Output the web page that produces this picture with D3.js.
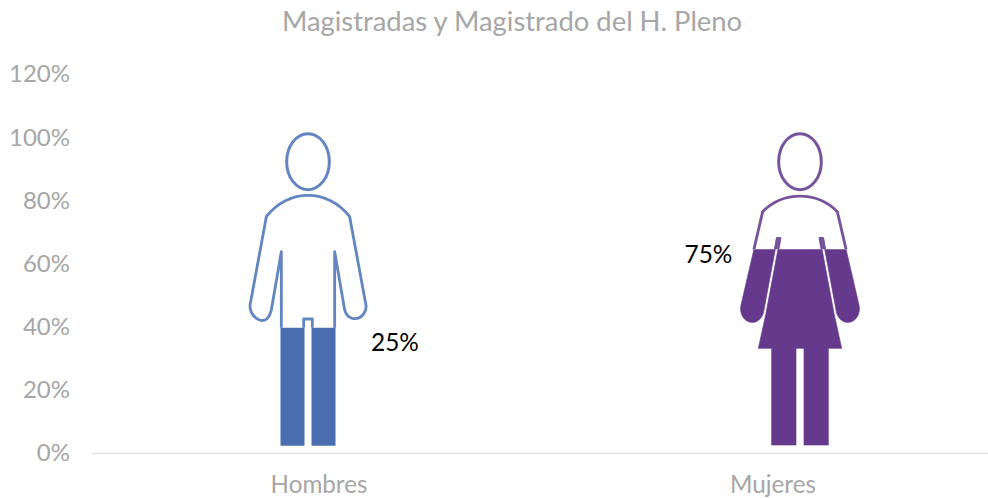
<!DOCTYPE html>
<html>
<head>
<meta charset="utf-8">
<script src="https://cdn.jsdelivr.net/npm/d3@7"></script>
<style>
  html, body { margin: 0; padding: 0; background: #fff; }
  text { font-family: Lato, "Open Sans", sans-serif; }
</style>
</head>
<body>
<svg id="chart"></svg>
<script>
var categories = ["Hombres", "Mujeres"];
var labels = ["25%", "75%"];
// level the fill reaches on the axis (the picture is not filled to its label)
var fillLevels = [39.8, 64.7];
var yTicks = [0, 20, 40, 60, 80, 100, 120];
var colors = ["#4a6eb0", "#65398c"];
var outlines = ["#6486c0", "#77539c"];

var width = 988;
var height = 498;
var svg = d3.select("#chart").attr("width", width).attr("height", height).style("display", "block");

var x = d3.scaleBand().domain(categories).range([92, 1000]);
var y = d3.scaleLinear().domain([0, 120]).range([453.5, 74.5]);

// figures stand off the band centre, same as in the original
var figureOffset = [-11, 27];
var labelPos = [{dx: 87, dy: 15}, {dx: -91.5, dy: 5}];
var fillStroke = [5, 2];
var figureBase = 2.7;

// glyphs in local units, 3 units = 1px, origin at the feet, x centred
var head = {cy: -850, rx: 64, ry: 84};
var glyphs = [
  "M-80,-580 L-80,0 L-13,0 L-13,-378 L13,-378 L13,0 L80,0 L80,-580 " +
  "L110,-405 C118,-375 150,-370 168,-395 C178,-410 172,-430 172,-430 L125,-685 " +
  "C60,-770 -60,-770 -125,-685 L-172,-430 C-178,-410 -170,-385 -145,-375 C-125,-368 -115,-385 -110,-405 Z",
  "M-68,-620 L-110,-395 C-118,-372 -135,-366 -148,-368 C-170,-372 -182,-395 -177,-420 " +
  "L-112,-700 C-50,-762 50,-762 112,-700 L177,-420 C182,-395 170,-372 148,-368 C135,-366 118,-372 110,-395 " +
  "L68,-620 L60,-620 L102,-395 L125,-290 L85,-290 L85,0 L12,0 L12,-290 L-12,-290 L-12,0 L-85,0 L-85,-290 " +
  "L-125,-290 L-102,-395 L-60,-620 Z"
];

// title
svg.append("text")
  .attr("x", 512)
  .attr("y", 31)
  .attr("text-anchor", "middle")
  .attr("font-size", 27.4)
  .attr("fill", "#a6a6a6")
  .text("Magistradas y Magistrado del H. Pleno");

// y axis
svg.append("g")
  .selectAll("text")
  .data(yTicks)
  .enter()
  .append("text")
  .attr("x", 70)
  .attr("y", function(d) { return y(d) - 0.5; })
  .attr("dy", "0.35em")
  .attr("text-anchor", "end")
  .attr("font-size", 24)
  .attr("fill", "#a6a6a6")
  .text(function(d) { return d + "%"; });

// x axis
svg.append("line")
  .attr("x1", 92)
  .attr("x2", 988)
  .attr("y1", y(0))
  .attr("y2", y(0))
  .attr("stroke", "#e2e2e8")
  .attr("stroke-width", 1.5);

svg.append("g")
  .selectAll("text")
  .data(categories)
  .enter()
  .append("text")
  .attr("x", function(d) { return x(d) + x.bandwidth() / 2; })
  .attr("y", 493)
  .attr("text-anchor", "middle")
  .attr("font-size", 24.2)
  .attr("fill", "#a6a6a6")
  .text(function(d) { return d; });

// figures
categories.forEach(function(cat, i) {
  var cx = x(cat) + x.bandwidth() / 2 + figureOffset[i];
  var level = y(fillLevels[i]);
  var tf = "translate(" + cx + "," + y(figureBase) + ") scale(0.3333)";
  var g = svg.append("g");

  svg.append("clipPath").attr("id", "below-" + i)
    .append("rect")
    .attr("x", cx - 100)
    .attr("y", level)
    .attr("width", 200)
    .attr("height", y(0) - level);

  svg.append("clipPath").attr("id", "above-" + i)
    .append("rect")
    .attr("x", cx - 100)
    .attr("y", 0)
    .attr("width", 200)
    .attr("height", level);

  g.append("ellipse")
    .attr("transform", tf)
    .attr("cx", 0)
    .attr("cy", head.cy)
    .attr("rx", head.rx)
    .attr("ry", head.ry)
    .attr("fill", "none")
    .attr("stroke", outlines[i])
    .attr("stroke-width", 9);

  g.append("g")
    .attr("clip-path", "url(#above-" + i + ")")
    .append("path")
    .attr("transform", tf)
    .attr("d", glyphs[i])
    .attr("fill", "none")
    .attr("stroke", outlines[i])
    .attr("stroke-width", 8.5)
    .attr("stroke-linejoin", "round");

  g.append("g")
    .attr("clip-path", "url(#below-" + i + ")")
    .append("path")
    .attr("transform", tf)
    .attr("d", glyphs[i])
    .attr("fill", colors[i])
    .attr("stroke", colors[i])
    .attr("stroke-width", fillStroke[i])
    .attr("stroke-linejoin", "round");

  svg.append("text")
    .attr("x", cx + labelPos[i].dx)
    .attr("y", level + labelPos[i].dy)
    .attr("dy", "0.35em")
    .attr("text-anchor", "middle")
    .attr("font-size", 24.4)
    .attr("fill", "#000")
    .text(labels[i]);
});
</script>
</body>
</html>
